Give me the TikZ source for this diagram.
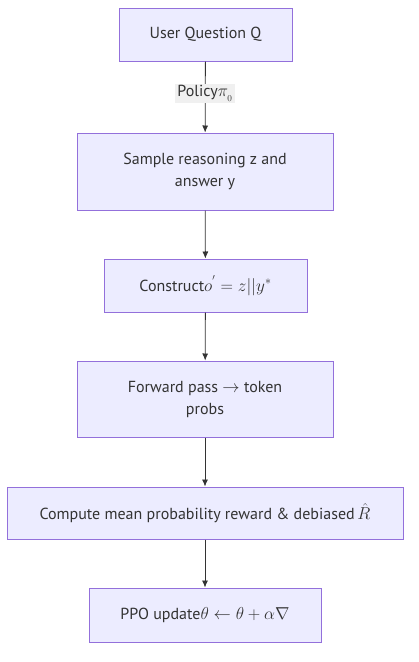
\documentclass[tikz,border=0pt]{standalone}
\usepackage{fontspec}
\setmainfont{PT Sans}
\usetikzlibrary{arrows.meta}
\definecolor{boxfill}{HTML}{ECECFF}
\definecolor{boxline}{HTML}{9370DB}
\definecolor{ink}{HTML}{333333}
\definecolor{lblbg}{HTML}{F0F0F0}
\newcommand{\mth}[1]{{\fontsize{18.5}{21}\selectfont$#1$}}
\tikzset{
  stepbox/.style={draw=boxline,fill=boxfill,line width=1pt,text=ink,align=center,
    inner sep=0pt,font=\fontsize{16}{22}\selectfont},
  flow/.style={draw=ink,line width=0.8pt,-{Latex[length=7pt,width=6pt]}},
}
\begin{document}
\begin{tikzpicture}[x=1pt,y=-1pt]
\useasboundingbox (0,0) rectangle (419,662);
%
\node[stepbox,minimum width=173pt,minimum height=53pt](q) at (205.5,34.5){User Question Q};
\node[stepbox,minimum width=256pt,minimum height=77pt](sample) at (205,171.5){Sample reasoning z and\\answer y};
\node[stepbox,minimum width=203pt,minimum height=53pt](construct) at (205.5,285.5){Construct\mth{o^{'}=z||y^{*}}};
\node[stepbox,minimum width=256pt,minimum height=76pt](forward) at (205,399){Forward pass $\rightarrow$ token\\probs};
\node[stepbox,minimum width=396pt,minimum height=52pt](reward) at (205,513){Compute mean probability reward \& debiased\,\mth{\hat{R}}};
\node[stepbox,minimum width=232pt,minimum height=54pt](update) at (205,615){PPO update\mth{\theta\leftarrow\theta+\alpha\nabla}};
%
\draw[flow](q)--(sample) node[pos=0.45,fill=lblbg,text=ink,inner sep=2pt,font=\fontsize{16}{18}\selectfont]{Policy\mth{\pi_{_0}}};
\draw[flow](sample)--(construct);
\draw[flow](construct)--(forward);
\draw[flow](forward)--(reward);
\draw[flow](reward)--(update);
\end{tikzpicture}
\end{document}
